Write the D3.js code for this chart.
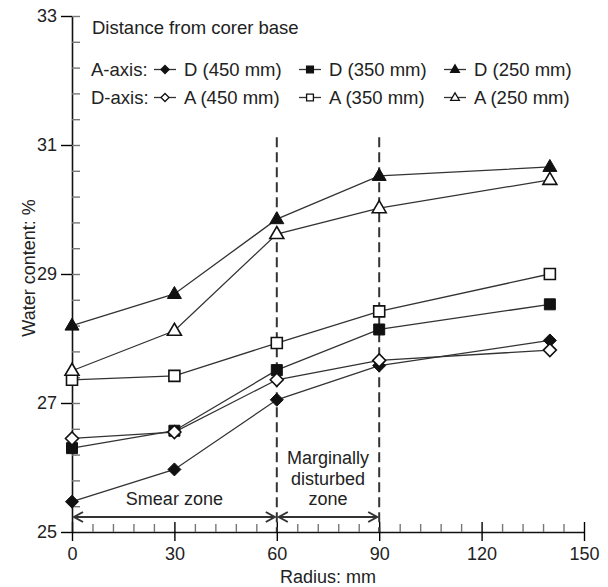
<!DOCTYPE html>
<html>
<head>
<meta charset="utf-8">
<script src="https://cdn.jsdelivr.net/npm/d3@7"></script>
<style>
  body { margin: 0; background: #fff; }
  text { font-family: "Liberation Sans", Arial, sans-serif; fill: #222; }
</style>
</head>
<body>
<script>
// data
var radius = [0, 30, 60, 90, 140];
var d450 = [25.47, 25.97, 27.05, 27.58, 27.97];
var d350 = [26.30, 26.57, 27.51, 28.14, 28.53];
var d250 = [28.20, 28.69, 29.85, 30.52, 30.66];
var a450 = [26.45, 26.55, 27.36, 27.66, 27.82];
var a350 = [27.36, 27.42, 27.93, 28.42, 29.00];
var a250 = [27.50, 28.12, 29.62, 30.02, 30.46];
var xTicks = [0, 30, 60, 90, 120, 150];
var yTicks = [25, 27, 29, 31, 33];
var zoneLines = [60, 90];

var series = [
  {name: "D (450 mm)", vals: d450, shape: "diamond", filled: true},
  {name: "D (350 mm)", vals: d350, shape: "square", filled: true},
  {name: "D (250 mm)", vals: d250, shape: "triangle", filled: true},
  {name: "A (450 mm)", vals: a450, shape: "diamond", filled: false},
  {name: "A (350 mm)", vals: a350, shape: "square", filled: false},
  {name: "A (250 mm)", vals: a250, shape: "triangle", filled: false}
];

var svgWidth = 608, svgHeight = 587;
var margin = {top: 16, right: 24, bottom: 55, left: 72};
var width = svgWidth - margin.left - margin.right;
var height = svgHeight - margin.top - margin.bottom;

var svg = d3.select("body").append("svg")
  .attr("width", svgWidth)
  .attr("height", svgHeight);

var g = svg.append("g")
  .attr("transform", `translate(${margin.left}, ${margin.top})`);

var x = d3.scaleLinear().domain([0, 150]).range([0, width]);
var y = d3.scaleLinear().domain([25, 33]).range([height, 0]);

// marker path, s = scale
function marker(shape, s) {
  s = s || 1;
  if (shape == "diamond") {
    var r = 6.5 * s;
    return `M0,${-r}L${r},0L0,${r}L${-r},0Z`;
  }
  if (shape == "square") {
    var h = 5.5 * s;
    return `M${-h},${-h}H${h}V${h}H${-h}Z`;
  }
  var w = 7 * s, t = 7.5 * s, b = 4.5 * s;
  return `M0,${-t}L${w},${b}L${-w},${b}Z`;
}

// x axis
g.append("g")
  .attr("transform", `translate(0, ${height})`)
  .call(d3.axisBottom(x).tickValues(xTicks).tickSize(9).tickSizeOuter(0).tickPadding(6))
  .call(a => a.selectAll("text").attr("font-size", 18).attr("fill", "#222"));
g.append("g")
  .attr("transform", `translate(0, ${height})`)
  .call(d3.axisTop(x).tickValues(xTicks).tickSize(10).tickSizeOuter(0).tickFormat(""))
  .call(a => a.select(".domain").remove());
g.append("g")
  .attr("transform", `translate(0, ${height})`)
  .call(d3.axisTop(x).tickValues(d3.range(6, 150, 6).filter(v => v % 30 != 0)).tickSize(8).tickFormat(""))
  .call(a => a.select(".domain").remove())
  .call(a => a.selectAll("line").attr("stroke", "#777"));

// y axis
g.append("g")
  .call(d3.axisLeft(y).tickValues(yTicks).tickSize(11).tickSizeOuter(0).tickPadding(4))
  .call(a => a.selectAll("text").attr("font-size", 18).attr("fill", "#222"));
g.append("g")
  .call(d3.axisRight(y).tickValues(d3.range(25.4, 33.01, 0.4)).tickSize(8).tickFormat(""))
  .call(a => a.select(".domain").remove())
  .call(a => a.selectAll("line").attr("stroke", "#777"));

g.selectAll(".domain").attr("stroke-width", 1.6).attr("stroke", "#111");
g.selectAll(".tick line").attr("stroke-width", 1.4);

// zone boundaries
g.selectAll(".zone")
  .data(zoneLines)
  .enter()
  .append("line")
  .attr("x1", d => x(d)).attr("x2", d => x(d))
  .attr("y1", y(31.12)).attr("y2", height)
  .attr("stroke", "#333")
  .attr("stroke-width", 2)
  .attr("stroke-dasharray", "10,5");

// series lines
var line = d3.line().x((d, i) => x(radius[i])).y(d => y(d));
g.selectAll(".series")
  .data(series)
  .enter()
  .append("path")
  .attr("d", d => line(d.vals))
  .attr("fill", "none")
  .attr("stroke", "#333")
  .attr("stroke-width", 1.3);

// markers
series.forEach(function(s) {
  g.selectAll(null)
    .data(s.vals)
    .enter()
    .append("path")
    .attr("transform", (d, i) => `translate(${x(radius[i])}, ${y(d)})`)
    .attr("d", marker(s.shape))
    .attr("fill", s.filled ? "#111" : "#fff")
    .attr("stroke", "#111")
    .attr("stroke-width", s.filled ? 1 : 1.6);
});

// double arrows
var arrowY = 517 - margin.top;
function arrow(a, b) {
  var x1 = x(a) + 2, x2 = x(b) - 2;
  g.append("line").attr("x1", x1).attr("x2", x2).attr("y1", arrowY).attr("y2", arrowY)
    .attr("stroke", "#333").attr("stroke-width", 2);
  g.append("path").attr("d", `M${x1 + 9},${arrowY - 5}L${x1},${arrowY}L${x1 + 9},${arrowY + 5}`)
    .attr("fill", "none").attr("stroke", "#333").attr("stroke-width", 2);
  g.append("path").attr("d", `M${x2 - 9},${arrowY - 5}L${x2},${arrowY}L${x2 - 9},${arrowY + 5}`)
    .attr("fill", "none").attr("stroke", "#333").attr("stroke-width", 2);
}
arrow(0, 60);
arrow(60, 90);

g.append("text")
  .attr("x", x(30)).attr("y", 505 - margin.top)
  .attr("text-anchor", "middle").attr("font-size", 18)
  .text("Smear zone");
["Marginally", "disturbed", "zone"].forEach(function(t, i) {
  g.append("text")
    .attr("x", x(75)).attr("y", 464 - margin.top + i * 20.5)
    .attr("text-anchor", "middle").attr("font-size", 18)
    .text(t);
});

// legend
svg.append("text").attr("x", 92).attr("y", 34).attr("font-size", 18.5).text("Distance from corer base");
var rows = [{label: "A-axis:", y: 76, items: series.slice(0, 3)},
            {label: "D-axis:", y: 104, items: series.slice(3)}];
var mx = [165, 310, 455];
rows.forEach(function(r) {
  svg.append("text").attr("x", 91).attr("y", r.y).attr("font-size", 18.5).text(r.label);
  r.items.forEach(function(s, i) {
    var cy = r.y - 6.5;
    svg.append("line").attr("x1", mx[i] - 11).attr("x2", mx[i] + 11)
      .attr("y1", cy).attr("y2", cy).attr("stroke", "#333").attr("stroke-width", 1.3);
    svg.append("path").attr("transform", `translate(${mx[i]}, ${cy})`)
      .attr("d", marker(s.shape, 0.62))
      .attr("fill", s.filled ? "#111" : "#fff")
      .attr("stroke", "#111").attr("stroke-width", 1.3);
    svg.append("text").attr("x", mx[i] + 19).attr("y", r.y).attr("font-size", 18.5).text(s.name);
  });
});

// axis titles
svg.append("text")
  .attr("transform", `translate(${margin.left + width / 2}, 583)`)
  .attr("text-anchor", "middle").attr("font-size", 18)
  .text("Radius: mm");
svg.append("text")
  .attr("transform", "translate(35, 268) rotate(-90)")
  .attr("text-anchor", "middle").attr("font-size", 18)
  .text("Water content: %");
</script>
</body>
</html>
